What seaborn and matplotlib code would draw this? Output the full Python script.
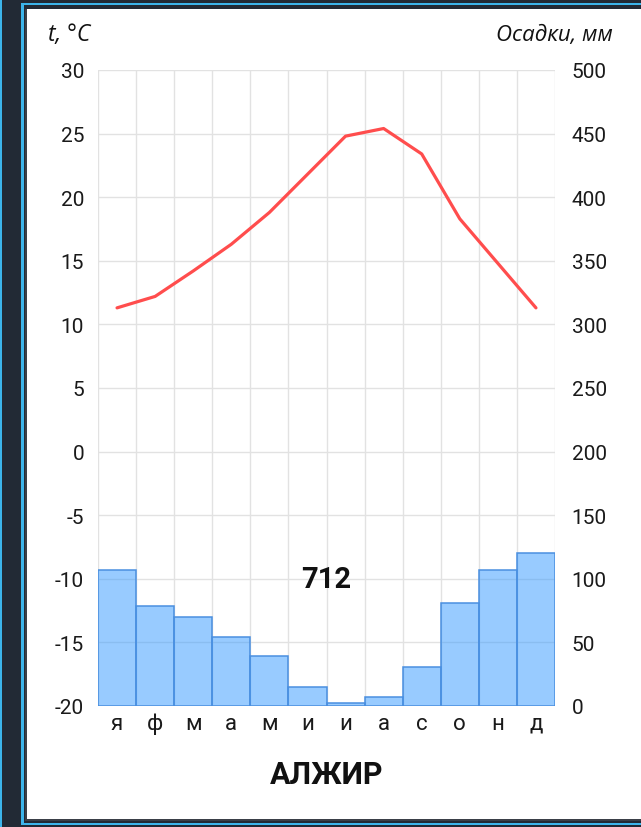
import matplotlib
matplotlib.use("Agg")
import matplotlib.pyplot as plt
from matplotlib.patches import Rectangle
import seaborn as sns
import pandas as pd
import numpy as np

months = ["я", "ф", "м", "а", "м", "и", "и", "а", "с", "о", "н", "д"]
temperature = [11.3, 12.2, 14.2, 16.3, 18.8, 21.8, 24.8, 25.4, 23.4, 18.3, 14.8, 11.3]
precipitation = [107, 79, 70, 54, 39, 15, 2, 7, 31, 81, 107, 120]
temp_ticks = list(range(-20, 31, 5))
precip_ticks = list(range(0, 501, 50))
city = "АЛЖИР"

sns.set_theme(style="white")
plt.rcParams["font.family"] = ["Roboto", "DejaVu Sans"]
plt.rcParams["axes.unicode_minus"] = False

W, H = 641, 828
fig = plt.figure(figsize=(W / 100, H / 100), dpi=100)
fig.patch.set_facecolor("white")

left, right, top, bottom = 98, 555, 71, 707
ax = fig.add_axes([left / W, 1 - bottom / H, (right - left) / W, (bottom - top) / H])
ax2 = ax.twinx()

df = pd.DataFrame({"idx": np.arange(len(months)), "month": months,
                   "temp": temperature, "precip": precipitation})

# bars on the precipitation axis (drawn below)
sns.barplot(data=df, x="idx", y="precip", ax=ax2, width=1.0,
            color="#3399ff", edgecolor="#4a8fe0", linewidth=1.1,
            saturation=1, zorder=2)
for p in ax2.patches:
    p.set_edgecolor("#4a8fe0")
    p.set_facecolor((0.2, 0.6, 1.0, 0.5))

# temperature line on the temperature axis (drawn above)
sns.lineplot(data=df, x="idx", y="temp", ax=ax, color="#ff4d4d", linewidth=2.3, zorder=5)

ax.set_zorder(ax2.get_zorder() + 1)
ax.patch.set_visible(False)

ax.set_xlim(-0.5, len(months) - 0.5)
ax2.set_xlim(-0.5, len(months) - 0.5)
ax.set_ylim(-20, 30)
ax2.set_ylim(0, 500)

ax.set_yticks(temp_ticks)
ax.set_yticklabels([str(t) for t in temp_ticks])
ax2.set_yticks(precip_ticks)
ax2.set_yticklabels([str(t) for t in precip_ticks])
ax.set_xticks(np.arange(len(months)))
ax.set_xticklabels(months)

# grid on the lower axis
ax2.xaxis.set_visible(True)
ax2.set_xticks(np.arange(-0.5, len(months), 1.0), minor=True)
ax2.grid(True, axis="y", which="major", color="#e2e2e2", linewidth=1.0, zorder=0)
ax2.grid(True, axis="x", which="minor", color="#e2e2e2", linewidth=1.0, zorder=0)
ax2.grid(False, axis="x", which="major")
ax2.set_axisbelow(True)
ax.grid(False)

for a in (ax, ax2):
    for s in a.spines.values():
        s.set_visible(False)
    a.set_xlabel("")
    a.set_ylabel("")

ax.tick_params(axis="y", length=0, pad=10, labelsize=15, labelcolor="#1a1a1a")
ax2.tick_params(axis="y", length=0, pad=12, labelsize=15, labelcolor="#1a1a1a")
ax.tick_params(axis="x", length=0, pad=5, labelsize=16, labelcolor="#1a1a1a")
ax2.tick_params(axis="x", which="both", length=0, labelbottom=False, labeltop=False,
                bottom=False, top=False)

# total precipitation
ax2.text(0.5, 100, str(sum(precipitation)), transform=ax2.get_yaxis_transform(),
         ha="center", va="center", fontsize=21, fontweight="bold", color="#111111")

# header labels
fig.text(48 / W, 1 - 35 / H, "t, °C", ha="left", va="center", fontsize=16.5,
         style="italic", family=["Open Sans", "DejaVu Sans"], color="#111111")
fig.text(613 / W, 1 - 35 / H, "Осадки, мм", ha="right", va="center", fontsize=16,
         style="italic", family=["Open Sans", "DejaVu Sans"], color="#111111")

# city name
fig.text(327 / W, 1 - 775 / H, city, ha="center", va="center", fontsize=22,
         fontweight="semibold", color="#111111")

# decorative frame
dark = "#222a35"
cyan = "#3cb4ea"
def rect(x0, y0, w, h, c):
    fig.add_artist(Rectangle((x0 / W, 1 - (y0 + h) / H), w / W, h / H,
                             transform=fig.transFigure, facecolor=c,
                             edgecolor="none", zorder=10))
rect(0, 0, 27, H, dark)
rect(0, 0, W, 10, dark)
rect(0, 821, W, 7, dark)
rect(0, 0, 2, H, cyan)
rect(21, 4, 2.5, 822, cyan)
rect(21, 4, W - 21, 1.8, cyan)
rect(21, 824, W - 21, 2, cyan)
rect(25, 10, 2, 812, "#3a3f47")
rect(25, 820, W - 25, 1.5, "#3a3f47")

fig.savefig("out.png", dpi=100)
